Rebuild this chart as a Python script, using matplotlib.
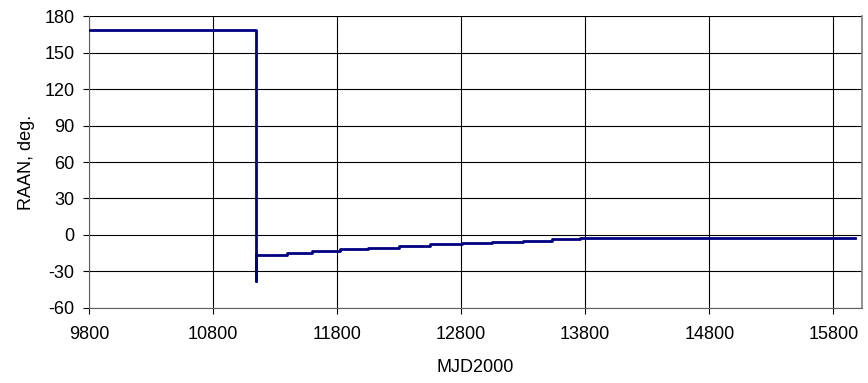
import matplotlib
matplotlib.use("Agg")
import matplotlib.pyplot as plt

plt.rcParams["font.family"] = ["Liberation Sans", "DejaVu Sans"]
plt.rcParams["axes.unicode_minus"] = False

# RAAN history
mjd = [9800, 11144, 11144, 11150, 11400, 11600, 11820, 12050, 12300,
       12550, 12810, 13050, 13300, 13530, 13760, 15975]
raan = [168.5, 168.5, -38.0, -16.6, -14.8, -13.2, -11.8, -10.4, -9.0,
        -7.7, -6.4, -5.4, -4.6, -3.4, -2.2, -2.2]

x_ticks = [9800, 10800, 11800, 12800, 13800, 14800, 15800]
y_ticks = [-60, -30, 0, 30, 60, 90, 120, 150, 180]

fig = plt.figure(figsize=(8.68, 3.83), dpi=100)
ax = fig.add_axes([0.1025, 0.196, 0.8905, 0.762])

ax.step(mjd, raan, where="post", color="#000080", lw=2.0, zorder=3)

ax.set_xlim(9800, 16030)
ax.set_ylim(-60, 180)
ax.set_xticks(x_ticks)
ax.set_yticks(y_ticks)
ax.grid(True, color="black", lw=0.8)
ax.set_axisbelow(True)

ax.spines["top"].set_visible(False)
ax.spines["right"].set_color("#808080")
ax.spines["right"].set_linewidth(1.2)
ax.spines["left"].set_color("#606060")
ax.spines["bottom"].set_color("#606060")

ax.tick_params(axis="both", direction="out", length=4.3, width=0.8,
               labelsize=13, colors="black")
ax.tick_params(axis="y", pad=6)
ax.tick_params(axis="x", pad=9)
ax.set_xlabel("MJD2000", fontsize=13, labelpad=11)
ax.set_ylabel("RAAN, deg.", fontsize=13, labelpad=7)

fig.savefig("out.png", dpi=100)
